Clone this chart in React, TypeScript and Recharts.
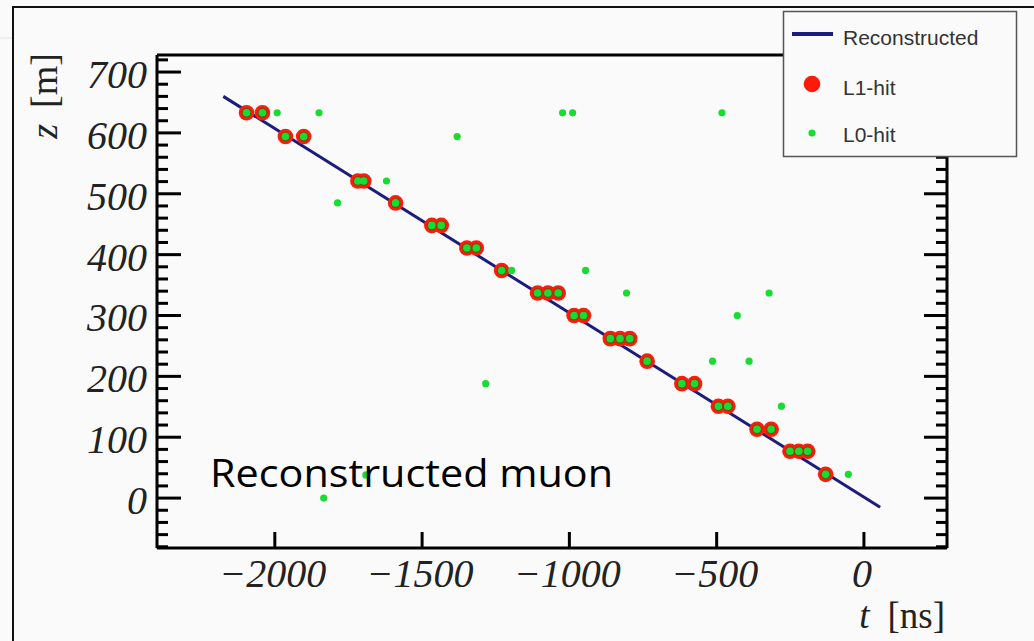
import React from 'react';
import { ScatterChart, Scatter, XAxis, YAxis } from 'recharts';

// reconstructed track end points (t in ns, z in m)
const recoT = [-2175, 55];
const recoZ = [660, -15];

// L1 hits (t, z)
const l1T = [
  -2096, -2042, -1964, -1902, -1718, -1698, -1590, -1467, -1435, -1348, -1316, -1230,
  -1108, -1073, -1038, -984, -952, -861, -828, -795, -736, -618, -575, -494, -462,
  -363, -315, -251, -221, -191, -130,
];
const l1Z = [
  633, 633, 594, 594, 521, 521, 485, 448, 448, 411, 411, 374,
  337, 337, 337, 300, 300, 262, 262, 262, 225, 188, 188, 151, 151,
  113, 113, 77, 77, 77, 39,
];

// L0 hits that are not L1 hits
const l0T = [
  -1992, -1850, -1023, -989, -482, -1381, -1621, -1787, -1196, -945,
  -806, -322, -430, -514, -390, -1284, -280, -53, -1691, -1834,
];
const l0Z = [
  633, 633, 633, 633, 633, 594, 521, 485, 374, 374,
  337, 337, 300, 225, 225, 188, 151, 39, 38, 0,
];

const xMajor = [-2000, -1500, -1000, -500, 0];
const yMajor = [0, 100, 200, 300, 400, 500, 600, 700];
const xMinor: number[] = [];
for (let v = -2300; v <= 200; v += 100) if (v % 500 !== 0) xMinor.push(v);
const yMinor: number[] = [];
for (let v = -80; v <= 720; v += 20) if (v % 100 !== 0) yMinor.push(v);

const recoData = recoT.map((t, i) => ({ t, z: recoZ[i] }));
const l1Data = l1T.map((t, i) => ({ t, z: l1Z[i] }));
const l0Data = l0T.map((t, i) => ({ t, z: l0Z[i] }));

const X_DOMAIN: [number, number] = [-2400, 282];
const Y_DOMAIN: [number, number] = [-82, 728];

const NAVY = '#1c1c7c';
const RED = '#ff1a0a';
const RING = '#7a4a0c';
const GREEN = '#19dc32';
const SERIF = '"Liberation Serif", "DejaVu Serif", serif';
const SANS = '"Liberation Sans", Arial, sans-serif';

const fmt = (v: number) => (v < 0 ? '\u2212' + Math.abs(v) : String(v));

const labelStyle = {
  fontFamily: SERIF,
  fontStyle: 'italic' as const,
  fontSize: 40,
  fill: '#222',
};

// ticks drawn inward from the axis line, dx/dy give the direction
const tickMark = (dx: number, dy: number, label?: 'x' | 'y') => (p: any) => (
  <g>
    <line x1={p.x} y1={p.y} x2={p.x + dx} y2={p.y + dy} stroke="#000" strokeWidth={3} />
    {label === 'x' && (
      <text x={p.x - 2} y={p.y} dy={39} textAnchor="middle" {...labelStyle}>
        {fmt(p.payload.value)}
      </text>
    )}
    {label === 'y' && (
      <text x={p.x - 10} y={p.y} dy={16} textAnchor="end" {...labelStyle}>
        {fmt(p.payload.value)}
      </text>
    )}
  </g>
);

const dot = (r: number, fill: string) => (p: any) =>
  <circle cx={p.cx} cy={p.cy} r={r} fill={fill} />;

const axisStroke = { stroke: '#000', strokeWidth: 3 };

export default function App() {
  return (
    <div
      style={{
        position: 'absolute',
        left: 0,
        top: 0,
        width: 1034,
        height: 641,
        background: '#fafafa',
        overflow: 'hidden',
      }}
    >
      <ScatterChart width={1034} height={641} margin={{ top: 53, right: 85, bottom: 91, left: 155 }}>
        <XAxis xAxisId="b" type="number" dataKey="t" domain={X_DOMAIN} allowDataOverflow
          orientation="bottom" height={1} ticks={xMajor} interval={0} tickSize={0} tickMargin={0}
          tick={tickMark(0, -16, 'x')} axisLine={axisStroke} tickLine={false} />
        <XAxis xAxisId="bMin" type="number" domain={X_DOMAIN} allowDataOverflow
          orientation="bottom" height={1} ticks={xMinor} interval={0} tickSize={0} tickMargin={0}
          tick={tickMark(0, -8)} axisLine={false} tickLine={false} />
        <XAxis xAxisId="t" type="number" domain={X_DOMAIN} allowDataOverflow
          orientation="top" height={1} ticks={xMajor} interval={0} tickSize={0} tickMargin={0}
          tick={tickMark(0, 15)} axisLine={axisStroke} tickLine={false} />
        <XAxis xAxisId="tMin" type="number" domain={X_DOMAIN} allowDataOverflow
          orientation="top" height={1} ticks={xMinor} interval={0} tickSize={0} tickMargin={0}
          tick={tickMark(0, 8)} axisLine={false} tickLine={false} />

        <YAxis yAxisId="l" type="number" dataKey="z" domain={Y_DOMAIN} allowDataOverflow
          orientation="left" width={1} ticks={yMajor} interval={0} tickSize={0} tickMargin={0}
          tick={tickMark(24, 0, 'y')} axisLine={axisStroke} tickLine={false} />
        <YAxis yAxisId="lMin" type="number" domain={Y_DOMAIN} allowDataOverflow
          orientation="left" width={1} ticks={yMinor} interval={0} tickSize={0} tickMargin={0}
          tick={tickMark(12, 0)} axisLine={false} tickLine={false} />
        <YAxis yAxisId="r" type="number" domain={Y_DOMAIN} allowDataOverflow
          orientation="right" width={1} ticks={yMajor} interval={0} tickSize={0} tickMargin={0}
          tick={tickMark(-23, 0)} axisLine={axisStroke} tickLine={false} />
        <YAxis yAxisId="rMin" type="number" domain={Y_DOMAIN} allowDataOverflow
          orientation="right" width={1} ticks={yMinor} interval={0} tickSize={0} tickMargin={0}
          tick={tickMark(-12, 0)} axisLine={false} tickLine={false} />

        <Scatter name="Reconstructed" xAxisId="b" yAxisId="l" data={recoData}
          line={{ stroke: NAVY, strokeWidth: 3 }} shape={() => <g />} isAnimationActive={false} />
        <Scatter name="L1-hit" xAxisId="b" yAxisId="l" data={l1Data}
          shape={dot(7.8, RED)} isAnimationActive={false} />
        <Scatter xAxisId="b" yAxisId="l" data={l1Data}
          shape={dot(5, RING)} isAnimationActive={false} legendType="none" />
        <Scatter xAxisId="b" yAxisId="l" data={l1Data}
          shape={dot(3.8, GREEN)} isAnimationActive={false} legendType="none" />
        <Scatter name="L0-hit" xAxisId="b" yAxisId="l" data={l0Data}
          shape={dot(3.6, GREEN)} isAnimationActive={false} />
      </ScatterChart>

      <svg
        width={1034}
        height={641}
        style={{ position: 'absolute', left: 0, top: 0, pointerEvents: 'none' }}
      >
        {/* outer frame */}
        <line x1={13} y1={6} x2={13} y2={641} stroke="#111" strokeWidth={2} />
        <line x1={13} y1={7} x2={1034} y2={7} stroke="#111" strokeWidth={2} />
        <line x1={0} y1={38} x2={12} y2={38} stroke="#e2e2e2" strokeWidth={1} />

        {/* axis titles */}
        <text transform="translate(57,53) rotate(-90)" textAnchor="end" fontFamily={SERIF} fontSize={38} fill="#222">
          <tspan fontStyle="italic">z</tspan>
          <tspan dx={16}>[m]</tspan>
        </text>
        <text x={945} y={628} textAnchor="end" fontFamily={SERIF} fontSize={37} fill="#222">
          <tspan fontStyle="italic">t</tspan>
          <tspan dx={18}>[ns]</tspan>
        </text>

        <text x={210} y={487} fontFamily='"Open Sans", "Noto Sans", sans-serif' fontSize={38}
          textLength={403} lengthAdjust="spacingAndGlyphs" fill="#000">
          Reconstructed muon
        </text>

        {/* legend */}
        <rect x={783.5} y={11.5} width={233} height={145} fill="#fafafa" stroke="#555" strokeWidth={1.5} />
        <line x1={792} y1={34} x2={833} y2={34} stroke={NAVY} strokeWidth={4} />
        <text x={843} y={45} fontFamily={SANS} fontSize={21} fill="#333">Reconstructed</text>
        <circle cx={812} cy={84} r={8.3} fill={RED} />
        <text x={843} y={95} fontFamily={SANS} fontSize={21} fill="#333">L1-hit</text>
        <circle cx={812} cy={133} r={3.6} fill={GREEN} />
        <text x={843} y={142} fontFamily={SANS} fontSize={21} fill="#333">L0-hit</text>
      </svg>
    </div>
  );
}
